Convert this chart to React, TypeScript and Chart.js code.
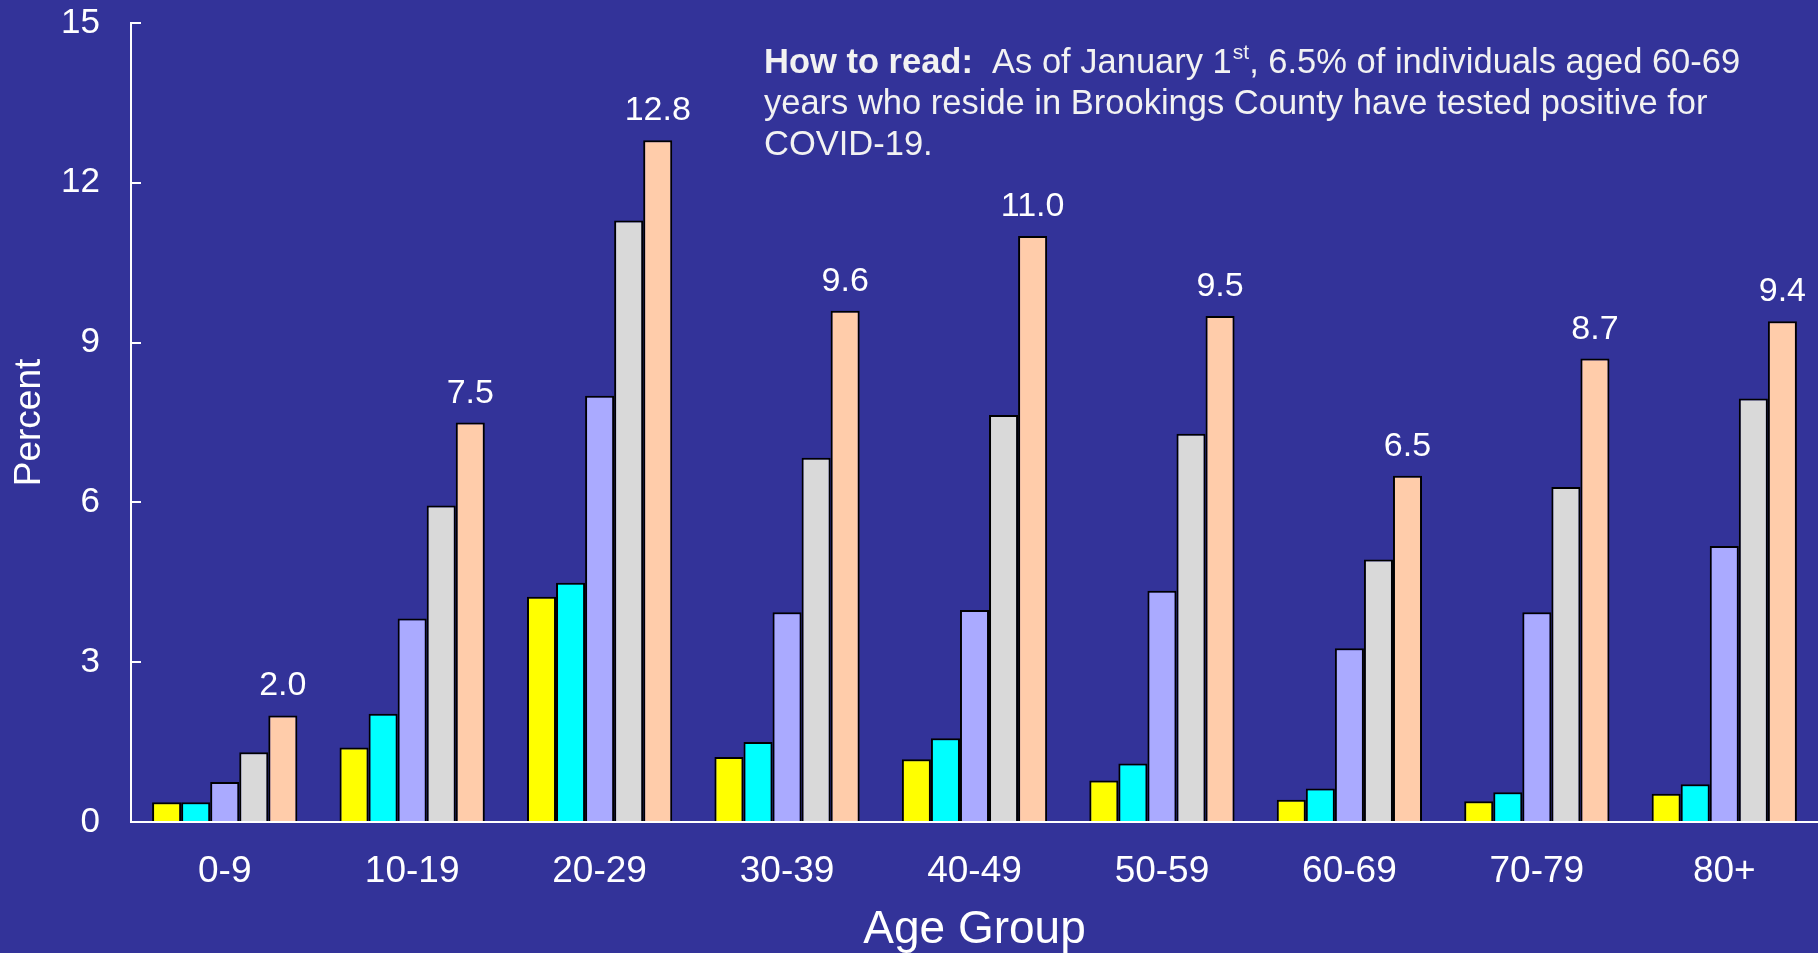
import React, { useEffect, useRef } from "react";
import { Chart, registerables } from "chart.js";

Chart.register(...registerables);

const FONT = "'Liberation Sans', Arial, Helvetica, sans-serif";

const categories = ["0-9", "10-19", "20-29", "30-39", "40-49", "50-59", "60-69", "70-79", "80+"];
const seriesYellow = [0.37, 1.4, 4.23, 1.22, 1.18, 0.78, 0.42, 0.39, 0.53];
const seriesCyan = [0.37, 2.03, 4.49, 1.5, 1.57, 1.1, 0.63, 0.56, 0.71];
const seriesLavender = [0.75, 3.82, 8.0, 3.94, 3.98, 4.34, 3.26, 3.94, 5.18];
const seriesGrey = [1.31, 5.94, 11.29, 6.84, 7.64, 7.29, 4.93, 6.29, 7.95];
const seriesPeach = [2.0, 7.5, 12.8, 9.6, 11.0, 9.5, 6.5, 8.7, 9.4];
const seriesColors = ["#FFFF00", "#00FFFF", "#AAAAFF", "#D9D9D9", "#FFCCAA"];
const yTicks = [0, 3, 6, 9, 12, 15];

const annoBold = "How to read:";
const annoPart1 = "  As of January 1";
const annoSup = "st";
const annoPart2 = ", 6.5% of individuals aged 60-69";
const annoLine2 = "years who reside in Brookings County have tested positive for";
const annoLine3 = "COVID-19.";

const overlayPlugin = {
  id: "overlay",
  afterDatasetsDraw(chart: any) {
    const ctx = chart.ctx;
    const area = chart.chartArea;
    ctx.save();
    // inward y ticks
    const ys = chart.scales.y;
    ctx.strokeStyle = "#FFFFFF";
    ctx.lineWidth = 2;
    yTicks.forEach((v) => {
      const py = Math.round(ys.getPixelForValue(v));
      ctx.beginPath();
      ctx.moveTo(area.left, py);
      ctx.lineTo(area.left + 10, py);
      ctx.stroke();
    });
    // x axis line over bars
    ctx.beginPath();
    ctx.moveTo(area.left, area.bottom);
    ctx.lineTo(area.right, area.bottom);
    ctx.stroke();

    // value labels above the last series
    const meta = chart.getDatasetMeta(4);
    ctx.fillStyle = "#FFFFFF";
    ctx.font = `34px ${FONT}`;
    ctx.textAlign = "center";
    ctx.textBaseline = "alphabetic";
    meta.data.forEach((bar: any, i: number) => {
      ctx.fillText(seriesPeach[i].toFixed(1), bar.x, bar.y - 20);
    });

    // annotation
    const ax = 764;
    let x = ax;
    ctx.fillStyle = "#F2F2F2";
    ctx.textAlign = "left";
    ctx.font = `bold 34.5px ${FONT}`;
    ctx.fillText(annoBold, x, 73);
    x += ctx.measureText(annoBold).width;
    ctx.font = `34.5px ${FONT}`;
    ctx.fillText(annoPart1, x, 73);
    x += ctx.measureText(annoPart1).width;
    ctx.font = `21px ${FONT}`;
    ctx.fillText(annoSup, x + 1, 59);
    x += ctx.measureText(annoSup).width + 1;
    ctx.font = `34.5px ${FONT}`;
    ctx.fillText(annoPart2, x, 73);
    ctx.fillText(annoLine2, ax, 114);
    ctx.fillText(annoLine3, ax, 155);
    ctx.restore();
  },
};

export default function App() {
  const canvasRef = useRef<HTMLCanvasElement | null>(null);

  useEffect(() => {
    if (!canvasRef.current) return;
    const seriesList = [seriesYellow, seriesCyan, seriesLavender, seriesGrey, seriesPeach];
    const chart = new Chart(canvasRef.current, {
      type: "bar",
      data: {
        labels: categories,
        datasets: seriesList.map((d, i) => ({
          data: d,
          backgroundColor: seriesColors[i],
          borderColor: "#000000",
          borderWidth: 2,
          categoryPercentage: 0.775,
          barPercentage: 1.0,
        })),
      },
      options: {
        responsive: false,
        animation: false,
        devicePixelRatio: 1,
        layout: { padding: { top: 23, right: 0, bottom: 0, left: 0 } },
        plugins: {
          legend: { display: false },
          tooltip: { enabled: false },
        },
        scales: {
          x: {
            grid: { display: false, drawTicks: false },
            border: { display: true, color: "#FFFFFF", width: 2 },
            ticks: {
              color: "#FFFFFF",
              font: { family: FONT, size: 37 },
              padding: 28,
              maxRotation: 0,
            },
            title: {
              display: true,
              text: "Age Group",
              color: "#FFFFFF",
              font: { family: FONT, size: 46 },
              padding: { top: 0, bottom: -5 },
            },
            afterFit: (s: any) => {
              s.height = 131;
              s.paddingLeft = 0;
              s.paddingRight = 0;
            },
          },
          y: {
            min: 0,
            max: 15,
            grid: { display: false, drawTicks: false },
            border: { display: true, color: "#FFFFFF", width: 2 },
            ticks: {
              stepSize: 3,
              color: "#FFFFFF",
              font: { family: FONT, size: 35 },
              padding: 31,
            },
            title: {
              display: true,
              text: "Percent",
              color: "#FFFFFF",
              font: { family: FONT, size: 37 },
              padding: { top: 8, bottom: 0 },
            },
            afterFit: (s: any) => {
              s.width = 131;
              s.paddingTop = 0;
              s.paddingBottom = 0;
            },
          },
        },
      },
      plugins: [overlayPlugin],
    });
    return () => chart.destroy();
  }, []);

  return (
    <div
      style={{
        position: "fixed",
        left: 0,
        top: 0,
        width: 1818,
        height: 953,
        background: "#333399",
        overflow: "hidden",
      }}
    >
      <canvas ref={canvasRef} width={1818} height={953} style={{ display: "block" }} />
    </div>
  );
}
